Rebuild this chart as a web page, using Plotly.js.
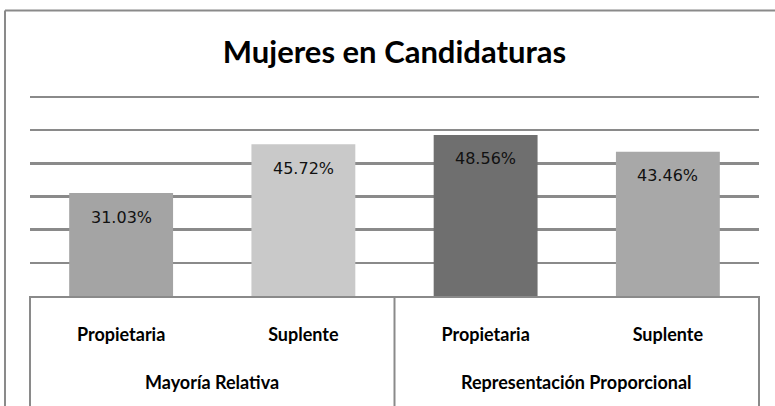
<!DOCTYPE html>
<html>
<head>
<meta charset="utf-8">
<script src="https://cdn.plot.ly/plotly-3.0.1.min.js"></script>
<style>
  html, body { margin: 0; padding: 0; background: #fff; }
  #chart { width: 775px; height: 406px; }
</style>
</head>
<body>
<div id="chart"></div>
<script>
var CHART = document.getElementById('chart');

var grupos = ['Mayoría Relativa', 'Mayoría Relativa', 'Representación Proporcional', 'Representación Proporcional'];
var cargos = ['Propietaria', 'Suplente', 'Propietaria', 'Suplente'];
var porcentajes = [31.03, 45.72, 48.56, 43.46];
var colores = ['#a4a4a4', '#c9c9c9', '#6f6f6f', '#a8a8a8'];

var posiciones = [];
for (let i = 0; i < cargos.length; i++) {
    posiciones.push(i);
}

var etiquetas = [];
for (let i = 0; i < porcentajes.length; i++) {
    etiquetas.push({
        x: posiciones[i],
        y: porcentajes[i],
        xref: 'x',
        yref: 'y',
        text: porcentajes[i].toFixed(2) + '%',
        showarrow: false,
        yanchor: 'middle',
        yshift: -24,
        font: {family: 'DejaVu Sans', size: 16, color: '#111'}
    });
}

// etiquetas de grupo centradas bajo sus categorias
var nombresGrupo = [];
for (let i = 0; i < grupos.length; i++) {
    if (nombresGrupo.indexOf(grupos[i]) < 0) nombresGrupo.push(grupos[i]);
}
nombresGrupo.forEach(function (g) {
    var idx = posiciones.filter(function (p) { return grupos[p] === g; });
    var centro = (idx[0] + idx[idx.length - 1]) / 2;
    etiquetas.push({
        x: centro,
        y: -0.43,
        xref: 'x',
        yref: 'paper',
        text: g,
        showarrow: false,
        yanchor: 'middle',
        font: {family: 'Lato', size: 18, color: '#000', weight: 'bold'}
    });
});

var data = [{
    x: posiciones,
    y: porcentajes,
    type: 'bar',
    marker: {color: colores},
    width: 0.57,
    hoverinfo: 'skip'
}];

var borde = {color: '#8a8a8a', width: 2};

var layout = {
    width: 775,
    height: 406,
    margin: {l: 30, r: 16, t: 95, b: 110},
    paper_bgcolor: '#fff',
    plot_bgcolor: '#fff',
    showlegend: false,
    title: {
        text: '<b>Mujeres en Candidaturas</b>',
        font: {family: 'Lato', size: 31, color: '#000'},
        x: 0.5,
        xref: 'paper',
        xanchor: 'center',
        y: 0.872,
        yref: 'container',
        yanchor: 'middle'
    },
    xaxis: {
        range: [-0.5, 3.5],
        tickvals: posiciones,
        ticktext: cargos,
        tickfont: {family: 'Lato', size: 18, color: '#000', weight: 'bold'},
        ticks: 'outside',
        ticklen: 21,
        tickcolor: 'rgba(0,0,0,0)',
        showgrid: false,
        zeroline: false,
        showline: true,
        linecolor: '#8a8a8a',
        linewidth: 2,
        fixedrange: true
    },
    yaxis: {
        range: [0, 60.6],
        tickvals: [10, 20, 30, 40, 50, 60],
        showticklabels: false,
        showgrid: true,
        gridcolor: '#8a8a8a',
        gridwidth: 2.5,
        zeroline: false,
        fixedrange: true
    },
    annotations: etiquetas,
    shapes: [
        // marco exterior
        {type: 'line', xref: 'paper', yref: 'paper', x0: -0.0343, x1: -0.0343, y0: -0.6, y1: 1.42, line: borde},
        {type: 'line', xref: 'paper', yref: 'paper', x0: -0.0343, x1: 1.1, y0: 1.42, y1: 1.42, line: borde},
        // caja de categorias
        {type: 'line', xref: 'paper', yref: 'paper', x0: 0, x1: 0, y0: 0, y1: -0.6, line: borde},
        {type: 'line', xref: 'paper', yref: 'paper', x0: 0.5, x1: 0.5, y0: 0, y1: -0.6, line: borde},
        {type: 'line', xref: 'paper', yref: 'paper', x0: 1, x1: 1, y0: 0, y1: -0.6, line: borde}
    ]
};

Plotly.newPlot(CHART, data, layout, {staticPlot: true});
</script>
</body>
</html>
